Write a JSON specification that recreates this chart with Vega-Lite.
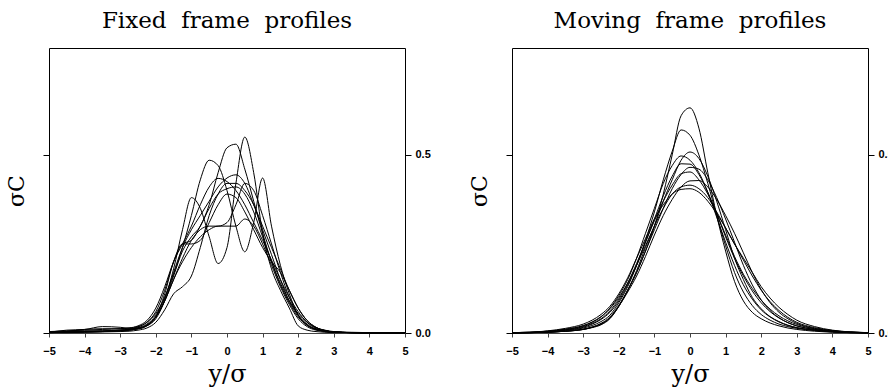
{
  "$schema": "https://vega.github.io/schema/vega-lite/v6.json",
  "background": "white",
  "padding": {"left": 5, "top": 9, "right": 0, "bottom": 0},
  "spacing": 37,
  "config": {
    "view": {"stroke": "black", "strokeWidth": 1},
    "axis": {"grid": false},
    "axisX": {"values": [-5, -4, -3, -2, -1, 0, 1, 2, 3, 4, 5], "format": "d", "labelFlush": false, "labelOverlap": false, "labelFont": "Liberation Sans", "labelFontWeight": "bold", "labelFontSize": 11, "labelColor": "black", "labelPadding": 8, "tickSize": 4, "tickColor": "#444", "domainColor": "#444", "titleFont": "DejaVu Serif", "titleFontSize": 24, "titleFontWeight": "normal", "titleColor": "black", "titlePadding": 6},
    "title": {"font": "DejaVu Serif", "fontSize": 23, "fontWeight": "normal", "color": "black", "offset": 15, "frame": "group", "anchor": "middle"}
  },
  "datasets": {
    "fixed": [
      {"x": -5, "a": 0.003, "b": 0.001, "c": 0.002, "d": 0.002, "e": 0.003, "f": 0.002, "g": 0.004, "h": 0.001, "i": 0.001, "j": 0.002},
      {"x": -4.5, "a": 0.004, "b": 0.002, "c": 0.003, "d": 0.003, "e": 0.005, "f": 0.002, "g": 0.006, "h": 0.002, "i": 0.001, "j": 0.008},
      {"x": -4, "a": 0.006, "b": 0.003, "c": 0.004, "d": 0.004, "e": 0.01, "f": 0.003, "g": 0.008, "h": 0.003, "i": 0.002, "j": 0.01},
      {"x": -3.5, "a": 0.006, "b": 0.004, "c": 0.005, "d": 0.006, "e": 0.012, "f": 0.004, "g": 0.01, "h": 0.004, "i": 0.003, "j": 0.018},
      {"x": -3, "a": 0.008, "b": 0.006, "c": 0.008, "d": 0.008, "e": 0.012, "f": 0.006, "g": 0.012, "h": 0.006, "i": 0.004, "j": 0.016},
      {"x": -2.75, "a": 0.01, "b": 0.008, "c": 0.011, "d": 0.01, "e": 0.014, "f": 0.008, "g": 0.014, "h": 0.008, "i": 0.005, "j": 0.013},
      {"x": -2.5, "a": 0.014, "b": 0.012, "c": 0.017, "d": 0.015, "e": 0.02, "f": 0.012, "g": 0.018, "h": 0.012, "i": 0.008, "j": 0.012},
      {"x": -2.25, "a": 0.022, "b": 0.02, "c": 0.03, "d": 0.025, "e": 0.035, "f": 0.022, "g": 0.03, "h": 0.022, "i": 0.014, "j": 0.02},
      {"x": -2, "a": 0.045, "b": 0.04, "c": 0.055, "d": 0.05, "e": 0.07, "f": 0.045, "g": 0.06, "h": 0.045, "i": 0.03, "j": 0.045},
      {"x": -1.75, "a": 0.095, "b": 0.09, "c": 0.1, "d": 0.1, "e": 0.13, "f": 0.09, "g": 0.12, "h": 0.09, "i": 0.065, "j": 0.11},
      {"x": -1.5, "a": 0.18, "b": 0.16, "c": 0.165, "d": 0.17, "e": 0.2, "f": 0.15, "g": 0.2, "h": 0.15, "i": 0.11, "j": 0.2},
      {"x": -1.25, "a": 0.29, "b": 0.23, "c": 0.24, "d": 0.24, "e": 0.25, "f": 0.21, "g": 0.25, "h": 0.2, "i": 0.13, "j": 0.25},
      {"x": -1, "a": 0.38, "b": 0.27, "c": 0.33, "d": 0.29, "e": 0.3, "f": 0.26, "g": 0.26, "h": 0.24, "i": 0.16, "j": 0.25},
      {"x": -0.75, "a": 0.35, "b": 0.3, "c": 0.43, "d": 0.33, "e": 0.36, "f": 0.29, "g": 0.3, "h": 0.27, "i": 0.24, "j": 0.26},
      {"x": -0.5, "a": 0.27, "b": 0.36, "c": 0.485, "d": 0.37, "e": 0.41, "f": 0.3, "g": 0.35, "h": 0.29, "i": 0.33, "j": 0.31},
      {"x": -0.25, "a": 0.195, "b": 0.45, "c": 0.47, "d": 0.41, "e": 0.434, "f": 0.3, "g": 0.39, "h": 0.3, "i": 0.39, "j": 0.36},
      {"x": 0, "a": 0.24, "b": 0.52, "c": 0.4, "d": 0.435, "e": 0.425, "f": 0.31, "g": 0.405, "h": 0.3, "i": 0.42, "j": 0.39},
      {"x": 0.25, "a": 0.42, "b": 0.53, "c": 0.3, "d": 0.444, "e": 0.4, "f": 0.36, "g": 0.41, "h": 0.3, "i": 0.42, "j": 0.38},
      {"x": 0.5, "a": 0.55, "b": 0.46, "c": 0.228, "d": 0.42, "e": 0.36, "f": 0.42, "g": 0.39, "h": 0.32, "i": 0.4, "j": 0.34},
      {"x": 0.75, "a": 0.45, "b": 0.37, "c": 0.31, "d": 0.36, "e": 0.31, "f": 0.4, "g": 0.34, "h": 0.3, "i": 0.36, "j": 0.29},
      {"x": 1, "a": 0.28, "b": 0.28, "c": 0.435, "d": 0.29, "e": 0.26, "f": 0.33, "g": 0.27, "h": 0.25, "i": 0.3, "j": 0.24},
      {"x": 1.25, "a": 0.18, "b": 0.2, "c": 0.3, "d": 0.22, "e": 0.205, "f": 0.25, "g": 0.2, "h": 0.19, "i": 0.24, "j": 0.2},
      {"x": 1.5, "a": 0.12, "b": 0.135, "c": 0.19, "d": 0.15, "e": 0.15, "f": 0.17, "g": 0.14, "h": 0.13, "i": 0.18, "j": 0.17},
      {"x": 1.75, "a": 0.07, "b": 0.085, "c": 0.11, "d": 0.09, "e": 0.1, "f": 0.1, "g": 0.09, "h": 0.08, "i": 0.12, "j": 0.12},
      {"x": 2, "a": 0.02, "b": 0.045, "c": 0.05, "d": 0.05, "e": 0.06, "f": 0.05, "g": 0.055, "h": 0.04, "i": 0.07, "j": 0.07},
      {"x": 2.25, "a": 0.008, "b": 0.022, "c": 0.022, "d": 0.025, "e": 0.03, "f": 0.022, "g": 0.03, "h": 0.018, "i": 0.035, "j": 0.035},
      {"x": 2.5, "a": 0.004, "b": 0.01, "c": 0.01, "d": 0.012, "e": 0.014, "f": 0.01, "g": 0.015, "h": 0.008, "i": 0.016, "j": 0.016},
      {"x": 2.75, "a": 0.002, "b": 0.005, "c": 0.005, "d": 0.006, "e": 0.007, "f": 0.005, "g": 0.008, "h": 0.004, "i": 0.007, "j": 0.007},
      {"x": 3, "a": 0.001, "b": 0.003, "c": 0.002, "d": 0.003, "e": 0.003, "f": 0.002, "g": 0.004, "h": 0.002, "i": 0.003, "j": 0.003},
      {"x": 3.5, "a": 0.001, "b": 0.001, "c": 0.001, "d": 0.001, "e": 0.001, "f": 0.001, "g": 0.002, "h": 0.001, "i": 0.001, "j": 0.001},
      {"x": 4, "a": 0, "b": 0, "c": 0, "d": 0, "e": 0, "f": 0, "g": 0.001, "h": 0, "i": 0, "j": 0},
      {"x": 4.5, "a": 0, "b": 0, "c": 0, "d": 0, "e": 0, "f": 0, "g": 0, "h": 0, "i": 0, "j": 0},
      {"x": 5, "a": 0, "b": 0, "c": 0, "d": 0, "e": 0, "f": 0, "g": 0, "h": 0, "i": 0, "j": 0}
    ],
    "moving": [
      {"x": -5, "a": 0, "b": 0, "c": 0, "d": 0.001, "e": 0, "f": 0, "g": 0.001, "h": 0, "i": 0.001, "j": 0.001},
      {"x": -4.5, "a": 0.001, "b": 0.001, "c": 0.001, "d": 0.002, "e": 0.001, "f": 0.001, "g": 0.002, "h": 0.001, "i": 0.002, "j": 0.002},
      {"x": -4, "a": 0.002, "b": 0.003, "c": 0.002, "d": 0.005, "e": 0.003, "f": 0.002, "g": 0.004, "h": 0.002, "i": 0.005, "j": 0.006},
      {"x": -3.5, "a": 0.005, "b": 0.007, "c": 0.005, "d": 0.01, "e": 0.008, "f": 0.005, "g": 0.009, "h": 0.005, "i": 0.011, "j": 0.013},
      {"x": -3, "a": 0.01, "b": 0.014, "c": 0.01, "d": 0.02, "e": 0.016, "f": 0.011, "g": 0.018, "h": 0.01, "i": 0.021, "j": 0.025},
      {"x": -2.75, "a": 0.016, "b": 0.021, "c": 0.015, "d": 0.03, "e": 0.025, "f": 0.017, "g": 0.027, "h": 0.016, "i": 0.031, "j": 0.036},
      {"x": -2.5, "a": 0.025, "b": 0.032, "c": 0.023, "d": 0.045, "e": 0.038, "f": 0.027, "g": 0.04, "h": 0.025, "i": 0.046, "j": 0.052},
      {"x": -2.25, "a": 0.042, "b": 0.05, "c": 0.04, "d": 0.07, "e": 0.058, "f": 0.045, "g": 0.062, "h": 0.042, "i": 0.068, "j": 0.075},
      {"x": -2, "a": 0.075, "b": 0.085, "c": 0.075, "d": 0.105, "e": 0.09, "f": 0.078, "g": 0.095, "h": 0.075, "i": 0.1, "j": 0.11},
      {"x": -1.75, "a": 0.12, "b": 0.13, "c": 0.12, "d": 0.15, "e": 0.135, "f": 0.12, "g": 0.14, "h": 0.115, "i": 0.14, "j": 0.155},
      {"x": -1.5, "a": 0.17, "b": 0.19, "c": 0.175, "d": 0.21, "e": 0.19, "f": 0.17, "g": 0.195, "h": 0.16, "i": 0.19, "j": 0.21},
      {"x": -1.25, "a": 0.23, "b": 0.26, "c": 0.24, "d": 0.28, "e": 0.255, "f": 0.23, "g": 0.255, "h": 0.215, "i": 0.245, "j": 0.265},
      {"x": -1, "a": 0.3, "b": 0.34, "c": 0.3, "d": 0.35, "e": 0.32, "f": 0.29, "g": 0.315, "h": 0.275, "i": 0.3, "j": 0.32},
      {"x": -0.75, "a": 0.39, "b": 0.43, "c": 0.37, "d": 0.42, "e": 0.385, "f": 0.35, "g": 0.37, "h": 0.33, "i": 0.35, "j": 0.36},
      {"x": -0.5, "a": 0.5, "b": 0.51, "c": 0.43, "d": 0.47, "e": 0.44, "f": 0.405, "g": 0.415, "h": 0.375, "i": 0.39, "j": 0.39},
      {"x": -0.25, "a": 0.61, "b": 0.57, "c": 0.485, "d": 0.497, "e": 0.475, "f": 0.445, "g": 0.447, "h": 0.41, "i": 0.41, "j": 0.403},
      {"x": 0, "a": 0.632, "b": 0.555, "c": 0.508, "d": 0.485, "e": 0.474, "f": 0.465, "g": 0.452, "h": 0.427, "i": 0.415, "j": 0.405},
      {"x": 0.25, "a": 0.575, "b": 0.5, "c": 0.49, "d": 0.45, "e": 0.445, "f": 0.46, "g": 0.43, "h": 0.428, "i": 0.405, "j": 0.395},
      {"x": 0.5, "a": 0.45, "b": 0.42, "c": 0.44, "d": 0.395, "e": 0.395, "f": 0.43, "g": 0.39, "h": 0.41, "i": 0.38, "j": 0.37},
      {"x": 0.75, "a": 0.33, "b": 0.33, "c": 0.37, "d": 0.325, "e": 0.335, "f": 0.38, "g": 0.335, "h": 0.375, "i": 0.34, "j": 0.335},
      {"x": 1, "a": 0.23, "b": 0.245, "c": 0.29, "d": 0.255, "e": 0.27, "f": 0.32, "g": 0.275, "h": 0.33, "i": 0.295, "j": 0.295},
      {"x": 1.25, "a": 0.145, "b": 0.17, "c": 0.21, "d": 0.19, "e": 0.21, "f": 0.255, "g": 0.215, "h": 0.28, "i": 0.25, "j": 0.25},
      {"x": 1.5, "a": 0.09, "b": 0.115, "c": 0.15, "d": 0.135, "e": 0.16, "f": 0.19, "g": 0.165, "h": 0.225, "i": 0.21, "j": 0.205},
      {"x": 1.75, "a": 0.058, "b": 0.077, "c": 0.1, "d": 0.095, "e": 0.118, "f": 0.135, "g": 0.125, "h": 0.17, "i": 0.17, "j": 0.16},
      {"x": 2, "a": 0.04, "b": 0.052, "c": 0.068, "d": 0.065, "e": 0.085, "f": 0.093, "g": 0.092, "h": 0.122, "i": 0.13, "j": 0.12},
      {"x": 2.25, "a": 0.028, "b": 0.036, "c": 0.046, "d": 0.045, "e": 0.06, "f": 0.063, "g": 0.067, "h": 0.085, "i": 0.098, "j": 0.088},
      {"x": 2.5, "a": 0.02, "b": 0.025, "c": 0.032, "d": 0.031, "e": 0.042, "f": 0.043, "g": 0.048, "h": 0.058, "i": 0.072, "j": 0.063},
      {"x": 2.75, "a": 0.014, "b": 0.018, "c": 0.022, "d": 0.021, "e": 0.029, "f": 0.029, "g": 0.034, "h": 0.04, "i": 0.052, "j": 0.044},
      {"x": 3, "a": 0.01, "b": 0.013, "c": 0.015, "d": 0.015, "e": 0.02, "f": 0.02, "g": 0.024, "h": 0.027, "i": 0.036, "j": 0.03},
      {"x": 3.5, "a": 0.005, "b": 0.007, "c": 0.008, "d": 0.008, "e": 0.01, "f": 0.01, "g": 0.012, "h": 0.013, "i": 0.018, "j": 0.015},
      {"x": 4, "a": 0.002, "b": 0.003, "c": 0.004, "d": 0.004, "e": 0.005, "f": 0.004, "g": 0.006, "h": 0.006, "i": 0.008, "j": 0.007},
      {"x": 4.5, "a": 0.001, "b": 0.001, "c": 0.001, "d": 0.002, "e": 0.002, "f": 0.002, "g": 0.002, "h": 0.002, "i": 0.003, "j": 0.003},
      {"x": 5, "a": 0, "b": 0, "c": 0, "d": 0.001, "e": 0.001, "f": 0, "g": 0.001, "h": 0, "i": 0.001, "j": 0.001}
    ]
  },
  "hconcat": [
    {
      "title": "Fixed\u00a0 frame\u00a0 profiles",
      "width": 356,
      "height": 285,
      "data": {"name": "fixed"},
      "transform": [{"fold": ["a", "b", "c", "d", "e", "f", "g", "h", "i", "j"], "as": ["curve", "v"]}],
      "resolve": {"axis": {"y": "independent"}},
      "layer": [
        {
          "mark": {"type": "line", "interpolate": "monotone", "color": "black", "strokeWidth": 1},
          "encoding": {
            "x": {"field": "x", "type": "quantitative", "scale": {"domain": [-5, 5], "nice": false, "zero": false},
              "axis": {"values": [-5, -4, -3, -2, -1, 0, 1, 2, 3, 4, 5], "labelOverlap": false, "labelFlush": false, "title": "y/σ"}},
            "y": {"field": "v", "type": "quantitative", "scale": {"domain": [0, 0.8], "nice": false},
              "axis": {"orient": "left", "values": [0, 0.5], "labels": false, "tickSize": 6, "tickColor": "black", "domain": false, "title": "σC", "titleFont": "DejaVu Serif", "titleFontSize": 22, "titleFontWeight": "normal", "titleColor": "black", "titlePadding": 14}},
            "detail": {"field": "curve"}
          }
        },
        {
          "mark": {"type": "line", "opacity": 0},
          "encoding": {
            "x": {"field": "x", "type": "quantitative",
              "axis": {"values": [-5, -4, -3, -2, -1, 0, 1, 2, 3, 4, 5], "labelOverlap": false, "labelFlush": false, "title": "y/σ"}},
            "y": {"field": "v", "type": "quantitative",
              "axis": {"orient": "right", "values": [0, 0.5], "format": ".1f", "labelFont": "Liberation Sans", "labelFontWeight": "bold", "labelFontSize": 11, "labelColor": "black", "labelPadding": 4, "tickSize": 6, "tickColor": "black", "domain": false, "title": null}},
            "detail": {"field": "curve"}
          }
        }
      ]
    },
    {
      "title": "Moving\u00a0 frame\u00a0 profiles",
      "width": 356,
      "height": 285,
      "data": {"name": "moving"},
      "transform": [{"fold": ["a", "b", "c", "d", "e", "f", "g", "h", "i", "j"], "as": ["curve", "v"]}],
      "resolve": {"axis": {"y": "independent"}},
      "layer": [
        {
          "mark": {"type": "line", "interpolate": "monotone", "color": "black", "strokeWidth": 1},
          "encoding": {
            "x": {"field": "x", "type": "quantitative", "scale": {"domain": [-5, 5], "nice": false, "zero": false},
              "axis": {"values": [-5, -4, -3, -2, -1, 0, 1, 2, 3, 4, 5], "labelOverlap": false, "labelFlush": false, "title": "y/σ"}},
            "y": {"field": "v", "type": "quantitative", "scale": {"domain": [0, 0.8], "nice": false},
              "axis": {"orient": "left", "values": [0, 0.5], "labels": false, "tickSize": 6, "tickColor": "black", "domain": false, "title": "σC", "titleFont": "DejaVu Serif", "titleFontSize": 22, "titleFontWeight": "normal", "titleColor": "black", "titlePadding": 14}},
            "detail": {"field": "curve"}
          }
        },
        {
          "mark": {"type": "line", "opacity": 0},
          "encoding": {
            "x": {"field": "x", "type": "quantitative",
              "axis": {"values": [-5, -4, -3, -2, -1, 0, 1, 2, 3, 4, 5], "labelOverlap": false, "labelFlush": false, "title": "y/σ"}},
            "y": {"field": "v", "type": "quantitative",
              "axis": {"orient": "right", "values": [0, 0.5], "format": ".1f", "labelFont": "Liberation Sans", "labelFontWeight": "bold", "labelFontSize": 11, "labelColor": "black", "labelPadding": 4, "tickSize": 6, "tickColor": "black", "domain": false, "title": null}},
            "detail": {"field": "curve"}
          }
        }
      ]
    }
  ]
}
